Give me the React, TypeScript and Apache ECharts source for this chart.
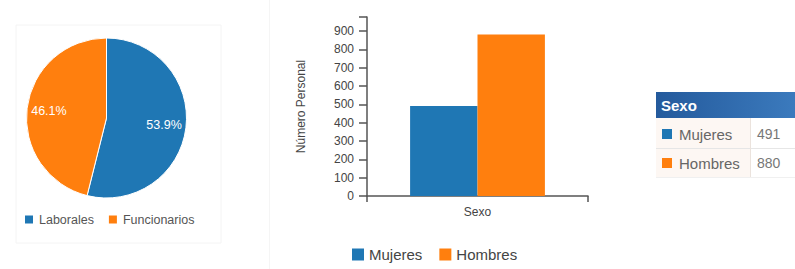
import React, { useEffect, useRef } from "react";
import * as echarts from "echarts";

const pieNames = ["Laborales", "Funcionarios"];
const pieValues = [739, 632];
const barCategories = ["Sexo"];
const seriesNames = ["Mujeres", "Hombres"];
const mujeresValues = [491];
const hombresValues = [880];
const yTicks = [0, 100, 200, 300, 400, 500, 600, 700, 800, 900];
const tableTitle = "Sexo";

const BLUE = "#1f77b4";
const ORANGE = "#ff7f0e";
const FONT = "'Liberation Sans', Arial, sans-serif";

export default function App() {
  const ref = useRef<HTMLDivElement>(null);
  useEffect(() => {
    document.body.style.margin = "0";
    const chart = echarts.init(ref.current!, null, { renderer: "svg" });
    const pieData = pieNames.map((n, i) => ({ name: n, value: pieValues[i] }));
    const tableRows = [
      { name: seriesNames[0], value: mujeresValues[0], color: BLUE },
      { name: seriesNames[1], value: hombresValues[0], color: ORANGE },
    ];
    const graphics: any[] = [
      { type: "rect", shape: { x: 16, y: 25, width: 205, height: 218 }, style: { fill: "none", stroke: "#f4f4f4", lineWidth: 1 }, z: -10 },
      { type: "line", shape: { x1: 269.5, y1: 0, x2: 269.5, y2: 269 }, style: { stroke: "#f5f5f5", lineWidth: 1 }, z: -10 },
      {
        type: "rect",
        shape: { x: 656, y: 92, width: 139, height: 26 },
        style: {
          fill: new echarts.graphic.LinearGradient(0, 0, 1, 0, [
            { offset: 0, color: "#245a9c" },
            { offset: 1, color: "#3b7abd" },
          ]),
        },
      },
      {
        type: "text",
        x: 661,
        y: 105,
        style: { text: tableTitle, fill: "#ffffff", font: `bold 15px ${FONT}`, verticalAlign: "middle" },
      },
      { type: "rect", shape: { x: 656, y: 118, width: 94, height: 59 }, style: { fill: "#fdf7f3" }, z: -1 },
      { type: "line", shape: { x1: 656, y1: 148.5, x2: 795, y2: 148.5 }, style: { stroke: "#e6e6e6", lineWidth: 1 } },
      { type: "line", shape: { x1: 750.5, y1: 118, x2: 750.5, y2: 177 }, style: { stroke: "#ebe3dd", lineWidth: 1 } },
      { type: "line", shape: { x1: 656, y1: 177.5, x2: 795, y2: 177.5 }, style: { stroke: "#f0f0f0", lineWidth: 1 } },
    ];
    tableRows.forEach((r, i) => {
      const cy = 134 + i * 29;
      graphics.push(
        { type: "rect", shape: { x: 662, y: cy - 5, width: 10, height: 10 }, style: { fill: r.color } },
        { type: "text", x: 679, y: cy, style: { text: r.name, fill: "#666", font: `15px ${FONT}`, verticalAlign: "middle" } },
        { type: "text", x: 757, y: cy, style: { text: String(r.value), fill: "#777", font: `14px ${FONT}`, verticalAlign: "middle" } }
      );
    });

    chart.setOption({
      animation: false,
      color: [BLUE, ORANGE],
      textStyle: { fontFamily: FONT },
      legend: [
        {
          data: pieNames,
          left: 23,
          top: 213,
          padding: 0,
          itemWidth: 10,
          itemHeight: 10,
          itemGap: 13,
          icon: "rect",
          textStyle: { fontSize: 12.5, color: "#555", fontFamily: FONT },
        },
        {
          data: seriesNames,
          left: 352,
          top: 247,
          padding: 0,
          itemWidth: 12,
          itemHeight: 12,
          itemGap: 17,
          icon: "rect",
          textStyle: { fontSize: 15, color: "#444", fontFamily: FONT },
        },
      ],
      grid: { left: 367, right: 207, top: 17, bottom: 73, containLabel: false },
      xAxis: {
        type: "category",
        data: barCategories,
        axisLine: { lineStyle: { color: "#555", width: 1.5 } },
        axisTick: { show: true, length: 6, lineStyle: { color: "#555", width: 1.5 } },
        axisLabel: { color: "#444", fontSize: 12, margin: 10, fontFamily: FONT },
      },
      yAxis: {
        type: "value",
        min: 0,
        max: 976,
        interval: 100,
        name: "Número Personal",
        nameLocation: "middle",
        nameRotate: 90,
        nameGap: 60,
        nameTextStyle: { color: "#444", fontSize: 12, fontFamily: FONT },
        splitLine: { show: false },
        axisLine: { show: true, lineStyle: { color: "#555", width: 1.5 } },
        axisTick: { show: true, length: 8, lineStyle: { color: "#555", width: 1.5 } },
        axisLabel: {
          color: "#444",
          fontSize: 12,
          margin: 13,
          fontFamily: FONT,
          formatter: (v: number) => (yTicks.indexOf(v) >= 0 ? String(v) : ""),
        },
      },
      series: [
        {
          type: "pie",
          name: "pie",
          center: [106.5, 118],
          radius: [0, 80],
          startAngle: 90,
          clockwise: true,
          percentPrecision: 1,
          data: pieData,
          label: { show: false },
          labelLine: { show: false },
          itemStyle: { borderColor: "#ffffff", borderWidth: 1 },
          emphasis: { disabled: true },
        },
        {
          type: "pie",
          name: "pieLabels",
          center: [106.5, 118],
          radius: [30, 80],
          startAngle: 90,
          clockwise: true,
          percentPrecision: 1,
          data: pieData,
          silent: true,
          itemStyle: { color: "rgba(0,0,0,0)" },
          label: {
            show: true,
            position: "inside",
            formatter: "{d}%",
            color: "#ffffff",
            fontSize: 12.5,
            fontFamily: FONT,
          },
          labelLine: { show: false },
          emphasis: { disabled: true },
        },
        {
          type: "bar",
          name: seriesNames[0],
          data: mujeresValues,
          barGap: "0%",
          barCategoryGap: "39%",
          itemStyle: { color: BLUE },
        },
        {
          type: "bar",
          name: seriesNames[1],
          data: hombresValues,
          barGap: "0%",
          barCategoryGap: "39%",
          itemStyle: { color: ORANGE },
        },
      ],
      graphic: graphics,
    });
    return () => chart.dispose();
  }, []);
  return <div ref={ref} style={{ width: 795, height: 269, position: "absolute", left: 0, top: 0 }} />;
}
